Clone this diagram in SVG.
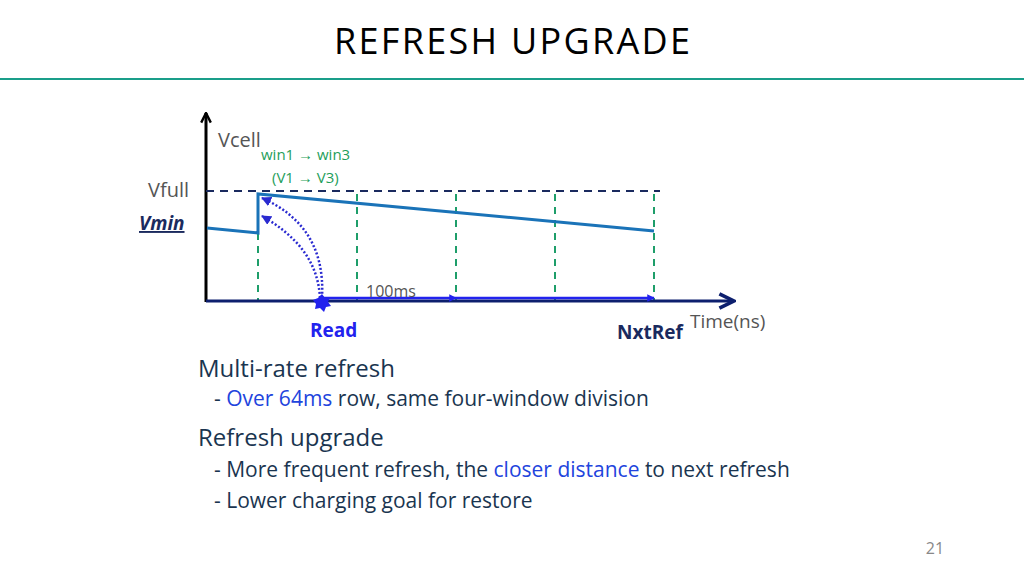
<svg xmlns="http://www.w3.org/2000/svg" width="1024" height="576" viewBox="0 0 1024 576">
<style>
text{font-family:"Open Sans","Liberation Sans",sans-serif}
.g{fill:#555}
.dv{stroke:#1e9e6a;stroke-width:2;stroke-dasharray:7,6}
.dot{fill:none;stroke:#2a2ad0;stroke-width:2.5;stroke-dasharray:2,2}
</style>
<defs>
<marker id="ah" viewBox="0 0 10 10" refX="8" refY="5" markerWidth="6" markerHeight="6" orient="auto"><path d="M1,1 L9,5 L1,9" fill="none" stroke="#0d1f6e" stroke-width="2"/></marker>
<marker id="ak" viewBox="0 0 10 10" refX="9" refY="5" markerWidth="4" markerHeight="4" orient="auto"><path d="M1,1 L9,5 L1,9" fill="none" stroke="#000" stroke-width="2"/></marker>
<marker id="ab" viewBox="0 0 10 10" refX="9" refY="5" markerWidth="4" markerHeight="4" orient="auto"><path d="M0,0 L10,5 L0,10z" fill="#2a2ad0"/></marker>
<marker id="sm" viewBox="0 0 10 10" refX="9" refY="5" markerWidth="3" markerHeight="3" orient="auto"><path d="M0,0 L10,5 L0,10z" fill="#2222ee"/></marker>
</defs>
<rect width="1024" height="576" fill="#fff"/>
<text x="512" y="54" text-anchor="middle" font-size="36" fill="#000" font-family="Lato,sans-serif" textLength="356">REFRESH UPGRADE</text>
<line x1="0" y1="79" x2="1024" y2="79" stroke="#1a9e8a" stroke-width="2"/>
<g id="chart">
<line x1="206" y1="302" x2="206" y2="113" stroke="#000" stroke-width="3" marker-end="url(#ak)"/>
<line x1="206" y1="191" x2="660" y2="191" stroke="#1a2a5e" stroke-width="2" stroke-dasharray="8,6"/>
<line class="dv" x1="258" y1="194" x2="258" y2="300"/>
<line class="dv" x1="357" y1="194" x2="357" y2="300"/>
<line class="dv" x1="456" y1="194" x2="456" y2="300"/>
<line class="dv" x1="555" y1="194" x2="555" y2="300"/>
<line class="dv" x1="654" y1="194" x2="654" y2="300"/>
<polyline points="207,228 258,233 258,194 654,231" fill="none" stroke="#1a73b8" stroke-width="3"/>
<line x1="206" y1="301" x2="732" y2="301" stroke="#0d1f6e" stroke-width="3" marker-end="url(#ah)"/>
<line x1="322" y1="298" x2="456" y2="298" stroke="#2222ee" stroke-width="2.5" marker-end="url(#sm)"/>
<line x1="456" y1="298" x2="654" y2="298" stroke="#2222ee" stroke-width="2.5" marker-end="url(#sm)"/>
<path class="dot" d="M322,298 C325,245 300,215 262,198" marker-end="url(#ab)"/>
<path class="dot" d="M320,298 C318,260 295,235 262,216" marker-end="url(#ab)"/>
<polygon points="322,294 325,298 330,297 328,302 331,306 326,307 324,312 320,308 315,309 316,304 313,300 318,298" fill="#2222ee"/>
</g>
<g id="labels">
<text x="218" y="147" font-size="20" class="g">Vcell</text>
<text x="261" y="160" font-size="15" fill="#1e9e5a">win1 → win3</text>
<text x="272" y="183" font-size="15" fill="#1e9e5a">(V1 → V3)</text>
<text x="148" y="197" font-size="20" class="g">Vfull</text>
<text x="139" y="230" font-size="19" font-weight="bold" font-style="italic" fill="#1a2a5e" text-decoration="underline">Vmin</text>
<text x="366" y="297" font-size="16" class="g">100ms</text>
<text x="310" y="337" font-size="19" font-weight="bold" fill="#2222ee">Read</text>
<text x="617" y="339" font-size="19" font-weight="bold" fill="#1a2a5e">NxtRef</text>
<text x="690" y="328" font-size="19" class="g">Time(ns)</text>
</g>
<g id="body" font-size="21">
<text x="198" y="377" font-size="24" fill="#1a3550">Multi-rate refresh</text>
<text x="214" y="406" fill="#1a3550">-  <tspan fill="#2244dd">Over 64ms</tspan> row, same four-window division</text>
<text x="198" y="446" font-size="24" fill="#1a3550">Refresh upgrade</text>
<text x="214" y="477" fill="#1a3550">-  More frequent refresh, the <tspan fill="#2244dd">closer distance</tspan> to next refresh</text>
<text x="214" y="508" fill="#1a3550">-  Lower charging goal for restore</text>
<text x="935" y="554" font-size="16" fill="#888" text-anchor="middle">21</text>
</g>
</svg>
